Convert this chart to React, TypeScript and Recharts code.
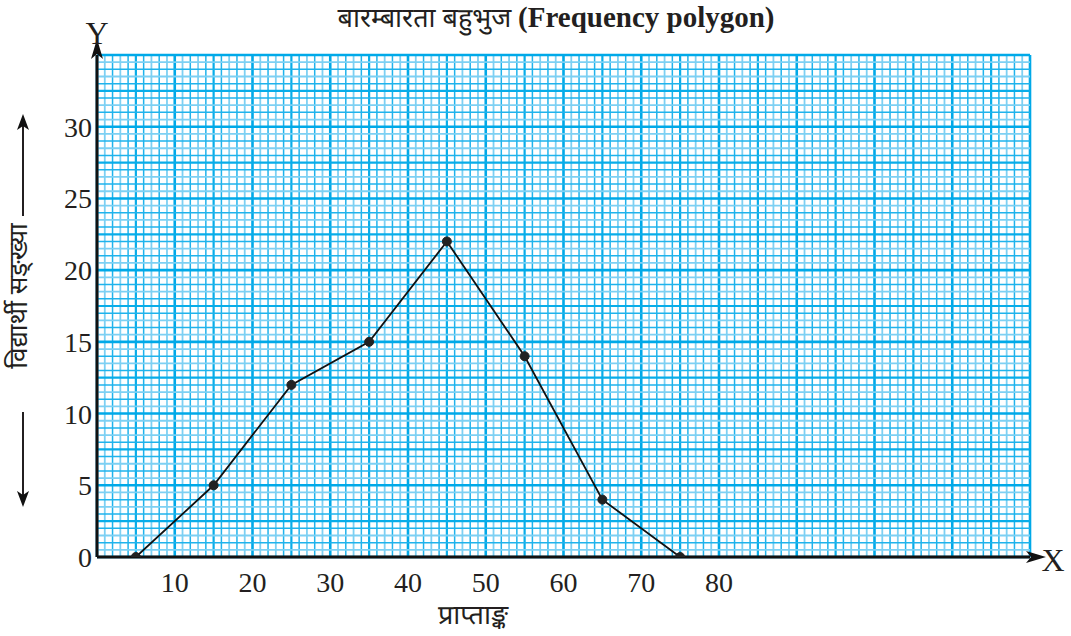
import React from 'react'
import { LineChart, Line, XAxis, YAxis, ReferenceLine } from 'recharts'

// marks (प्राप्ताङ्क) and number of students (विद्यार्थी सङ्ख्या)
const midMarks = [5, 15, 25, 35, 45, 55, 65, 75]
const students = [0, 5, 12, 15, 22, 14, 4, 0]

const xTicks = [10, 20, 30, 40, 50, 60, 70, 80]
const yTicks = [0, 5, 10, 15, 20, 25, 30]

const title = 'बारम्बारता बहुभुज'
const titleEn = '(Frequency polygon)'
const xTitle = 'प्राप्ताङ्क'
const yTitle = 'विद्यार्थी सङ्ख्या'

// graph paper lines
const gridX = Array.from({ length: 121 }, (_, i) => i)
const gridY = Array.from({ length: 71 }, (_, i) => i / 2)

const data = midMarks.map((m, i) => ({ x: m, y: students[i] }))

const serif = '"Liberation Serif", "Times New Roman", serif'
const deva = '"Noto Sans Devanagari", "Lohit Devanagari", "Noto Serif Devanagari", sans-serif'

const vStyle = (v: number) => {
  if (v % 10 === 0) return { stroke: '#00a9e8', strokeWidth: 2.6 }
  if (v % 5 === 0) return { stroke: '#08ade9', strokeWidth: 2.2 }
  if (v % 2 === 1) return { stroke: '#7dd0f3', strokeWidth: 1.8 }
  return { stroke: '#1fb3ec', strokeWidth: 1.5 }
}

const hStyle = (v: number) => {
  if (v % 5 === 0) return { stroke: '#00a9e8', strokeWidth: 2.6 }
  if (v % 2.5 === 0) return { stroke: '#08ade9', strokeWidth: 2.2 }
  if (v % 1 !== 0) return { stroke: '#7dd0f3', strokeWidth: 1.8 }
  return { stroke: '#1fb3ec', strokeWidth: 1.5 }
}

const tickStyle = { fontFamily: serif, fontSize: 28, fill: '#231f20' }

const YTitle = (props: any) => {
  const vb = props.viewBox
  const cx = vb.x + 21
  const cy = vb.y + vb.height * 0.48
  return (
    <g>
      <text x={cx} y={cy} transform={`rotate(-90, ${cx}, ${cy})`} textAnchor="middle" dominantBaseline="central"
        style={{ fontFamily: deva, fontSize: 26, fill: '#231f20' }}>{yTitle}</text>
      <line x1={cx + 2} y1={cy - 80} x2={cx + 2} y2={cy - 176} stroke="#231f20" strokeWidth={2} markerEnd="url(#arrSmall)" />
      <line x1={cx + 2} y1={cy + 116} x2={cx + 2} y2={cy + 205} stroke="#231f20" strokeWidth={2} markerEnd="url(#arrSmall)" />
      <text x={vb.x + vb.width} y={vb.y - 22} textAnchor="middle" dominantBaseline="central"
        style={{ fontFamily: serif, fontSize: 32, fill: '#231f20' }}>Y</text>
    </g>
  )
}

const XTitle = (props: any) => {
  const vb = props.viewBox
  return (
    <g>
      <text x={vb.x + vb.width * 0.403} y={vb.y + 60} textAnchor="middle" dominantBaseline="central"
        style={{ fontFamily: deva, fontSize: 27, fill: '#231f20' }}>{xTitle}</text>
      <text x={vb.x + vb.width + 23} y={vb.y + 3} textAnchor="middle" dominantBaseline="central"
        style={{ fontFamily: serif, fontSize: 32, fill: '#231f20' }}>X</text>
    </g>
  )
}

const App = () => {
  return (
    <div style={{ position: 'absolute', left: 0, top: 0, width: 1071, height: 636, background: '#fff' }}>
      <div style={{ position: 'absolute', left: 0, top: 1, width: 1112, textAlign: 'center', fontSize: 27, color: '#231f20', whiteSpace: 'nowrap' }}>
        <span style={{ fontFamily: deva }}>{title}</span>{' '}
        <span style={{ fontFamily: serif, fontWeight: 'bold', fontSize: 29 }}>{titleEn}</span>
      </div>
      <LineChart width={1071} height={636} data={data} margin={{ top: 55, right: 41, bottom: 0, left: 0 }}
        style={{ position: 'absolute', left: 0, top: 0 }}>
        <defs>
          <marker id="arrAxis" viewBox="0 0 20 12" refX="4" refY="6" markerWidth="20" markerHeight="12"
            markerUnits="userSpaceOnUse" orient="auto-start-reverse">
            <path d="M0,0 L20,6 L0,12 L5,6 z" fill="#111" />
          </marker>
          <marker id="arrSmall" viewBox="0 0 16 12" refX="10" refY="6" markerWidth="16" markerHeight="12"
            markerUnits="userSpaceOnUse" orient="auto">
            <path d="M0,0 L16,6 L0,12 L4,6 z" fill="#111" />
          </marker>
        </defs>
        {gridX.map(v => <ReferenceLine key={`vx${v}`} x={v} {...vStyle(v)} />)}
        {gridY.map(v => <ReferenceLine key={`hy${v}`} y={v} {...hStyle(v)} />)}
        <XAxis type="number" dataKey="x" domain={[0, 120]} ticks={xTicks} height={79} tickSize={0} tickMargin={15}
          tick={tickStyle} axisLine={{ stroke: '#111', strokeWidth: 3, markerEnd: 'url(#arrAxis)' }}
          label={(p: any) => <XTitle {...p} />} allowDataOverflow />
        <YAxis type="number" domain={[0, 35]} ticks={yTicks} width={97} tickSize={0} tickMargin={5}
          tick={tickStyle} axisLine={{ stroke: '#111', strokeWidth: 3, markerStart: 'url(#arrAxis)' }}
          label={(p: any) => <YTitle {...p} />} allowDataOverflow />
        <Line type="linear" dataKey="y" stroke="#111" strokeWidth={1.8} isAnimationActive={false}
          dot={{ r: 4.5, fill: '#222', stroke: '#222', strokeWidth: 1 }} />
      </LineChart>
    </div>
  )
}

export default App
